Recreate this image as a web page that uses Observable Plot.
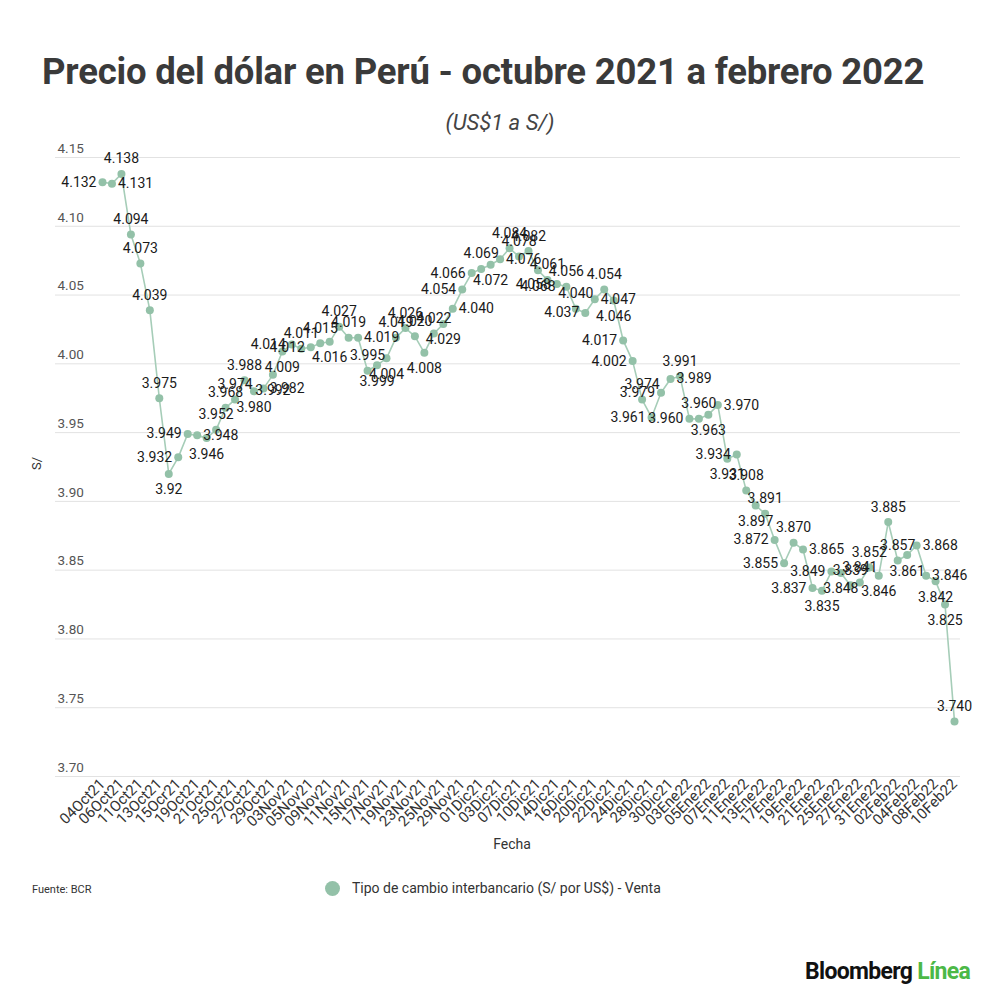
<!DOCTYPE html>
<html>
<head>
<meta charset="utf-8">
<script src="https://cdn.jsdelivr.net/npm/d3@7"></script>
<script src="https://cdn.jsdelivr.net/npm/@observablehq/plot@0.6"></script>
<style>
  html, body { margin: 0; padding: 0; background: #fff; }
  #wrap { position: relative; width: 1000px; height: 1000px; font-family: Roboto, "Noto Sans", sans-serif; overflow: hidden; }
  #title { position: absolute; left: 42px; top: 50px; font-size: 36.5px; font-weight: 700; color: #3a3a3a; white-space: nowrap; letter-spacing: -0.2px; }
  #subtitle { position: absolute; left: 0; width: 1000px; top: 110px; text-align: center; font-size: 22px; font-style: italic; color: #444; }
  #chart { position: absolute; left: 0; top: 0; }
  #ylab { position: absolute; left: 30px; top: 456px; font-size: 13px; color: #333; transform: rotate(-90deg); transform-origin: center; }
  #xlab { position: absolute; left: 0; width: 1024px; top: 836px; text-align: center; font-size: 14px; color: #333; }
  #source { position: absolute; left: 32px; top: 883px; font-size: 11px; color: #333; }
  #legend { position: absolute; left: 325px; top: 880px; font-size: 14px; color: #333; display: flex; align-items: center; }
  #legend .sw { width: 15px; height: 15px; border-radius: 50%; background: #93c1a8; margin-right: 12px; }
  #logo { position: absolute; right: 30px; top: 958px; font-size: 23px; font-weight: 700; letter-spacing: -0.7px; color: #111; }
  #logo span { color: #4cb847; }
</style>
</head>
<body>
<div id="wrap">
  <div id="chart"></div>
  <div id="title">Precio del dólar en Perú - octubre 2021 a febrero 2022</div>
  <div id="subtitle">(US$1 a S/)</div>
  <div id="ylab">S/</div>
  <div id="xlab">Fecha</div>
  <div id="source">Fuente: BCR</div>
  <div id="legend"><div class="sw"></div>Tipo de cambio interbancario (S/ por US$) - Venta</div>
  <div id="logo">Bloomberg <span>Línea</span></div>
</div>
<script>
const dates = ["04Oct21","05Oct21","06Oct21","07Oct21","11Oct21","12Oct21","13Oct21","14Oct21","15Ocr21","18Oct21",
  "19Oct21","20Oct21","21Oct21","22Oct21","25Oct21","26Oct21","27Oct21","28Oct21","29Oct21","02Nov21",
  "03Nov21","04Nov21","05Nov21","08Nov21","09Nov21","10Nov21","11Nov21","12Nov21","15Nov21","16Nov21",
  "17Nov21","18Nov21","19Nov21","22Nov21","23Nov21","24Nov21","25Nov21","26Nov21","29Nov21","30Nov21",
  "01Dic21","02Dic21","03Dic21","06Dic21","07Dic21","09Dic21","10Dic21","13Dic21","14Dic21","15Dic21",
  "16Dic21","17Dic21","20Dic21","21Dic21","22Dic21","23Dic21","24Dic21","27Dic21","28Dic21","29Dic21",
  "30Dic21","31Dic21","03Ene22","04Ene22","05Ene22","06Ene22","07Ene22","10Ene22","11Ene22","12Ene22",
  "13Ene22","14Ene22","17Ene22","18Ene22","19Ene22","20Ene22","21Ene22","24Ene22","25Ene22","26Ene22",
  "27Ene22","28Ene22","31Ene22","01Feb22","02Feb22","03Feb22","04Feb22","07Feb22","08Feb22","09Feb22",
  "10Feb22"];

const values = [4.132,4.131,4.138,4.094,4.073,4.039,3.975,3.920,3.932,3.949,
  3.948,3.946,3.952,3.968,3.974,3.988,3.980,3.982,3.992,4.009,
  4.014,4.011,4.012,4.015,4.016,4.027,4.019,4.019,3.995,3.999,
  4.004,4.019,4.026,4.020,4.008,4.022,4.029,4.040,4.054,4.066,
  4.069,4.072,4.076,4.084,4.078,4.082,4.068,4.061,4.058,4.056,
  4.040,4.037,4.047,4.054,4.046,4.017,4.002,3.974,3.961,3.979,
  3.989,3.991,3.960,3.960,3.963,3.970,3.931,3.934,3.908,3.897,
  3.891,3.872,3.855,3.870,3.865,3.837,3.835,3.849,3.848,3.839,
  3.841,3.852,3.846,3.885,3.857,3.861,3.868,3.846,3.842,3.825,
  3.740];

// label side for each point: T top, B bottom, L left, R right
const labelSide = ["L","R","T","T","T","T","T","B","L","L",
  "R","B","T","T","T","T","B","R","B","B",
  "L","T","L","T","B","T","T","R","T","B",
  "B","T","T","T","B","T","B","R","L","L",
  "T","B","R","T","T","T","B","T","L","T",
  "T","L","R","T","B","L","L","T","L","L",
  "R","T","L","T","B","R","B","L","T","B",
  "T","L","L","T","R","L","B","L","B","T",
  "T","T","B","T","T","B","R","R","B","B",
  "T"];

const shortLabels = new Set([7]); // shown without trailing zero ("3.92")

const tickLabels = dates.filter((d, i) => i % 2 === 0);
const yTicks = [3.70, 3.75, 3.80, 3.85, 3.90, 3.95, 4.00, 4.05, 4.10, 4.15];

const pts = dates.map((d, i) => ({date: d, v: values[i], side: labelSide[i], i}));
const fmt = d => shortLabels.has(d.i) ? String(+d.v.toFixed(3)) : d.v.toFixed(3);

const green = "#93c1a8";
const lab = {x: "date", y: "v", text: fmt, fontSize: 14, fill: "#1a1a1a", fontFamily: "Roboto, sans-serif"};

const chart = Plot.plot({
  width: 1000,
  height: 870,
  marginTop: 157,
  marginBottom: 94,
  marginLeft: 55,
  marginRight: 40,
  style: {fontFamily: "Roboto, sans-serif", background: "transparent"},
  x: {type: "point", domain: dates, range: [102, 954], padding: 0},
  y: {domain: [3.70, 4.15], axis: null},
  marks: [
    Plot.ruleY(yTicks, {stroke: "#e2e2e2", strokeWidth: 1}),
    Plot.text(yTicks, {y: d => d, text: d => d.toFixed(2), frameAnchor: "left", textAnchor: "start", dx: 2, dy: -9, fontSize: 13.5, fill: "#555"}),
    Plot.line(pts, {x: "date", y: "v", stroke: "#a6cdb8", strokeWidth: 1.6}),
    Plot.dot(pts, {x: "date", y: "v", r: 4, fill: green, stroke: "none"}),
    Plot.text(pts, {...lab, filter: d => d.side === "T", dy: -15}),
    Plot.text(pts, {...lab, filter: d => d.side === "B", dy: 16}),
    Plot.text(pts, {...lab, filter: d => d.side === "L", textAnchor: "end", dx: -6}),
    Plot.text(pts, {...lab, filter: d => d.side === "R", textAnchor: "start", dx: 6}),
    Plot.axisX(tickLabels, {tickRotate: -45, tickSize: 0, tickPadding: 5, fontSize: 15, fill: "#333", label: null})
  ]
});
document.getElementById("chart").appendChild(chart);
</script>
</body>
</html>
